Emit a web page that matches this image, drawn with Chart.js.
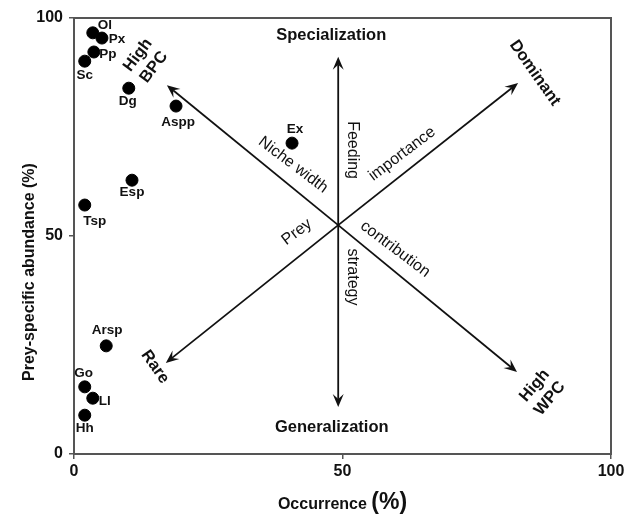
<!DOCTYPE html>
<html>
<head>
<meta charset="utf-8">
<script src="https://cdn.jsdelivr.net/npm/chart.js@4.4.0/dist/chart.umd.min.js"></script>
<style>
  html, body { margin: 0; padding: 0; background: #fff; }
  #wrap { width: 633px; height: 515px; }
</style>
</head>
<body>
<div id="wrap"><canvas id="amundsen"></canvas></div>
<script>
// Prey items: occurrence (%) vs prey-specific abundance (%)
const preyCodes = ['Ol', 'Px', 'Pp', 'Sc', 'Dg', 'Aspp', 'Ex', 'Esp', 'Tsp', 'Arsp', 'Go', 'Ll', 'Hh'];
const occurrence = [3.5, 5.2, 3.7, 2.0, 10.2, 19.0, 40.6, 10.8, 2.0, 6.0, 2.0, 3.5, 2.0];
const abundance = [96.6, 95.4, 92.2, 90.1, 83.9, 79.8, 71.3, 62.8, 57.1, 24.8, 15.4, 12.8, 8.9];
const xTickValues = [0, 50, 100];
const yTickValues = [0, 50, 100];

// Interpretation arrows (from a common origin, in data units)
const arrowOrigin = { x: 49.2, y: 52.5 };
const arrowTipX = [49.2, 49.2, 17.3, 82.7, 17.1, 82.5];
const arrowTipY = [91.1, 10.8, 84.6, 85.1, 20.9, 18.8];

// Annotation texts
const noteTexts = [['Specialization'], ['Generalization'], ['High', 'BPC'], ['Dominant'], ['Rare'], ['High', 'WPC'],
  ['Niche width'], ['Feeding'], ['importance'], ['Prey'], ['contribution'], ['strategy']];
const noteX = [47.9, 48.0, 13.4, 85.8, 15.1, 87.2, 40.8, 51.8, 61.1, 41.5, 59.8, 51.8];
const noteY = [96.1, 6.0, 90.1, 87.4, 20.0, 14.2, 66.3, 69.7, 68.8, 50.9, 47.0, 40.6];

// label placement (pixel offsets from each point) and note styling
const labelOffsets = [[12, -8], [15, 1], [14, 2], [0, 14], [-1, 13], [2, 16], [3, -14], [0, 12], [10, 16], [1, -16], [-1, -14], [12, 3], [0, 13]];
const noteAngles = [0, 0, -53, 55, 55, -50, 37, 90, -37, -37, 37, 90];
const noteBold = [true, true, true, true, true, true, false, false, false, false, false, false];

const FONT = '"Liberation Sans", Arial, sans-serif';
const INK = '#111';

const annotatePlugin = {
  id: 'annotate',
  beforeDatasetsDraw(chart) {
    const { ctx, chartArea: a, scales: { x, y } } = chart;
    ctx.save();
    // frame
    ctx.strokeStyle = '#555';
    ctx.lineWidth = 2;
    ctx.strokeRect(a.left, a.top, a.right - a.left, a.bottom - a.top);

    // arrows
    const ox = x.getPixelForValue(arrowOrigin.x);
    const oy = y.getPixelForValue(arrowOrigin.y);
    ctx.strokeStyle = INK;
    ctx.fillStyle = INK;
    ctx.lineWidth = 1.8;
    arrowTipX.forEach((tx, i) => {
      const px = x.getPixelForValue(tx);
      const py = y.getPixelForValue(arrowTipY[i]);
      const ang = Math.atan2(py - oy, px - ox);
      const len = 13, half = 5.5, notch = 8;
      const c = Math.cos(ang), s = Math.sin(ang);
      ctx.beginPath();
      ctx.moveTo(ox, oy);
      ctx.lineTo(px - notch * c, py - notch * s);
      ctx.stroke();
      ctx.beginPath();
      ctx.moveTo(px, py);
      ctx.lineTo(px - len * c - half * s, py - len * s + half * c);
      ctx.lineTo(px - notch * c, py - notch * s);
      ctx.lineTo(px - len * c + half * s, py - len * s - half * c);
      ctx.closePath();
      ctx.fill();
    });

    // notes
    ctx.textAlign = 'center';
    ctx.textBaseline = 'middle';
    noteTexts.forEach((lines, i) => {
      const px = x.getPixelForValue(noteX[i]);
      const py = y.getPixelForValue(noteY[i]);
      ctx.save();
      ctx.translate(px, py);
      ctx.rotate(noteAngles[i] * Math.PI / 180);
      ctx.font = noteBold[i] ? 'bold 16.5px ' + FONT : '16px ' + FONT;
      const lh = 20;
      lines.forEach((t, k) => {
        ctx.fillText(t, 0, (k - (lines.length - 1) / 2) * lh);
      });
      ctx.restore();
    });
    ctx.restore();
  },
  afterDatasetsDraw(chart) {
    const { ctx, chartArea: a, scales: { x, y } } = chart;
    ctx.save();
    ctx.fillStyle = INK;
    ctx.textAlign = 'center';
    ctx.textBaseline = 'middle';
    ctx.font = 'bold 13.5px ' + FONT;
    preyCodes.forEach((code, i) => {
      const px = x.getPixelForValue(occurrence[i]);
      const py = y.getPixelForValue(abundance[i]);
      ctx.fillText(code, px + labelOffsets[i][0], py + labelOffsets[i][1]);
    });

    // axis titles
    const t1 = 'Occurrence ';
    ctx.font = 'bold 16px ' + FONT;
    const w1 = ctx.measureText(t1).width;
    ctx.font = 'bold 23px ' + FONT;
    const w2 = ctx.measureText('(%)').width;
    const cx = (a.left + a.right) / 2;
    const startX = cx - (w1 + w2) / 2;
    ctx.textAlign = 'left';
    ctx.textBaseline = 'alphabetic';
    ctx.font = 'bold 16px ' + FONT;
    ctx.fillText(t1, startX, 509);
    ctx.font = 'bold 23px ' + FONT;
    ctx.fillText('(%)', startX + w1, 509);

    ctx.save();
    ctx.translate(30, 272);
    ctx.rotate(-Math.PI / 2);
    ctx.textAlign = 'center';
    ctx.textBaseline = 'middle';
    ctx.font = 'bold 16px ' + FONT;
    ctx.fillText('Prey-specific abundance (%)', 0, 0);
    ctx.restore();
    ctx.restore();
  }
};

new Chart(document.getElementById('amundsen'), {
  type: 'scatter',
  data: {
    datasets: [{
      label: 'Prey',
      data: preyCodes.map((c, i) => ({ x: occurrence[i], y: abundance[i] })),
      backgroundColor: '#000',
      borderColor: '#000',
      pointRadius: 6,
      pointHoverRadius: 6
    }]
  },
  options: {
    responsive: true,
    maintainAspectRatio: false,
    animation: false,
    layout: { padding: { top: 18, right: 22, left: 0, bottom: 0 } },
    plugins: {
      legend: { display: false },
      tooltip: { enabled: false }
    },
    scales: {
      x: {
        min: 0, max: 100,
        afterBuildTicks: s => { s.ticks = xTickValues.map(v => ({ value: v })); },
        afterFit: s => { s.height = 61; },
        border: { display: false },
        grid: { drawOnChartArea: false, drawTicks: true, tickLength: 5, color: '#555', lineWidth: 1.5 },
        ticks: { color: INK, padding: 3, maxRotation: 0, font: { family: FONT, size: 16, weight: 'bold' } }
      },
      y: {
        min: 0, max: 100,
        afterBuildTicks: s => { s.ticks = yTickValues.map(v => ({ value: v })); },
        afterFit: s => { s.width = 74; },
        border: { display: false },
        grid: { drawOnChartArea: false, drawTicks: true, tickLength: 5, color: '#555', lineWidth: 1.5 },
        ticks: { color: INK, padding: 6, font: { family: FONT, size: 16, weight: 'bold' } }
      }
    }
  },
  plugins: [annotatePlugin]
});
</script>
</body>
</html>
